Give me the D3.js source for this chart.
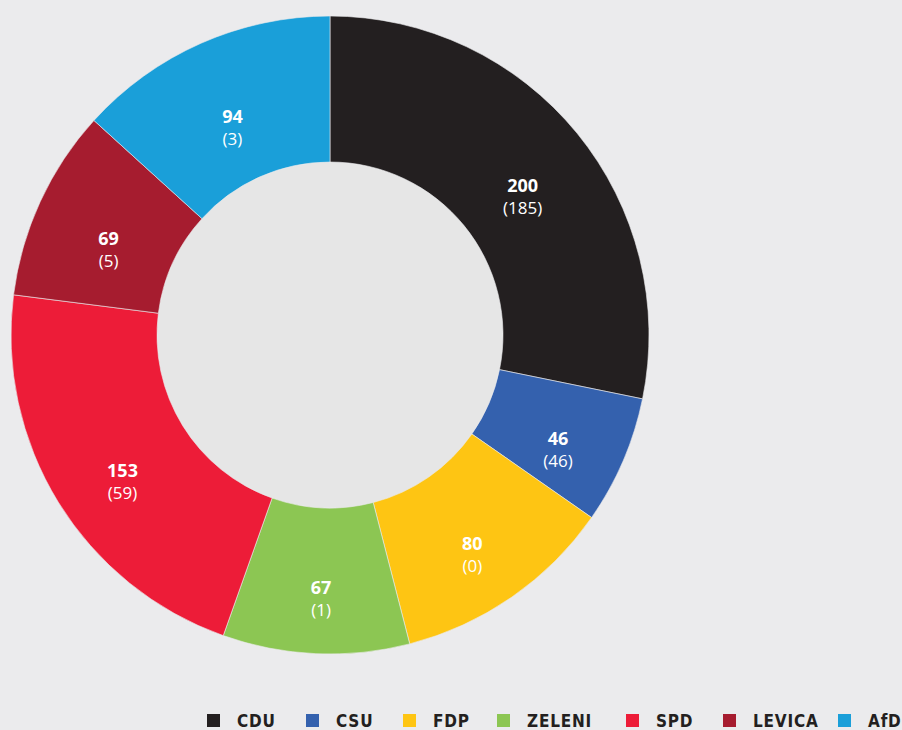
<!DOCTYPE html>
<html>
<head>
<meta charset="utf-8">
<script src="https://cdn.jsdelivr.net/npm/d3@7"></script>
<style>
    html, body { margin: 0; padding: 0; background: #ebebed; }
    svg { display: block; }
</style>
</head>
<body>
<svg id="chart" width="902" height="730"></svg>
<script>
// Data
const parties = ["CDU", "CSU", "FDP", "ZELENI", "SPD", "LEVICA", "AfD"]
const seats = [200, 46, 80, 67, 153, 69, 94]
const direct = [185, 46, 0, 1, 59, 5, 3]
const colors = ["#231f20", "#3461ae", "#fec513", "#8cc653", "#ed1c38", "#a61c2f", "#1a9fd9"]

// legend swatch positions (layout)
const legendPos = [207, 306, 403, 497, 626, 723, 838]

const cx = 330, cy = 335
const outerR = 319, innerR = 173

const svg = d3.select("#chart")

const rows = parties.map((p, i) => ({ party: p, seats: seats[i], direct: direct[i], color: colors[i] }))

const pie = d3.pie()
    .value(d => d.seats)
    .sort(null)

const arc = d3.arc()
    .innerRadius(innerR)
    .outerRadius(outerR)

const g = svg.append("g").attr("transform", `translate(${cx},${cy})`)

// inner disc, slightly darker than page
g.append("circle")
    .attr("r", innerR)
    .attr("fill", "#e6e6e6")

g.selectAll("path.slice")
    .data(pie(rows))
    .enter()
    .append("path")
        .attr("class", "slice")
        .attr("d", arc)
        .attr("fill", d => d.data.color)
        .attr("stroke", "#ebebed")
        .attr("stroke-width", 0.6)

const labelArc = d3.arc().innerRadius(246).outerRadius(246)

const labels = g.selectAll("g.label")
    .data(pie(rows))
    .enter()
    .append("g")
        .attr("class", "label")
        .attr("transform", d => {
            const [x, y] = labelArc.centroid(d)
            return `translate(${x + 2},${y + 13})`
        })

labels.append("text")
    .attr("text-anchor", "middle")
    .attr("font-family", "'Open Sans', sans-serif")
    .attr("font-weight", "bold")
    .attr("font-size", 18)
    .attr("fill", "#ffffff")
    .text(d => d.data.seats)

labels.append("text")
    .attr("text-anchor", "middle")
    .attr("y", 22)
    .attr("font-family", "'Open Sans', sans-serif")
    .attr("font-size", 17)
    .attr("fill", "#ffffff")
    .text(d => "(" + d.data.direct + ")")

// Legend
const leg = svg.append("g")
    .attr("class", "legend")
    .selectAll("g")
    .data(rows)
    .enter()
    .append("g")
        .attr("transform", (d, i) => `translate(${legendPos[i]},0)`)

leg.append("rect")
    .attr("x", 0)
    .attr("y", 714)
    .attr("width", 13)
    .attr("height", 13)
    .attr("fill", d => d.color)

leg.append("text")
    .attr("x", 30)
    .attr("y", 727)
    .attr("font-family", "'DejaVu Sans Condensed', 'DejaVu Sans', sans-serif")
    .attr("font-weight", "bold")
    .attr("font-size", 17)
    .attr("letter-spacing", 0.8)
    .attr("fill", "#231f20")
    .text(d => d.party)
</script>
</body>
</html>
